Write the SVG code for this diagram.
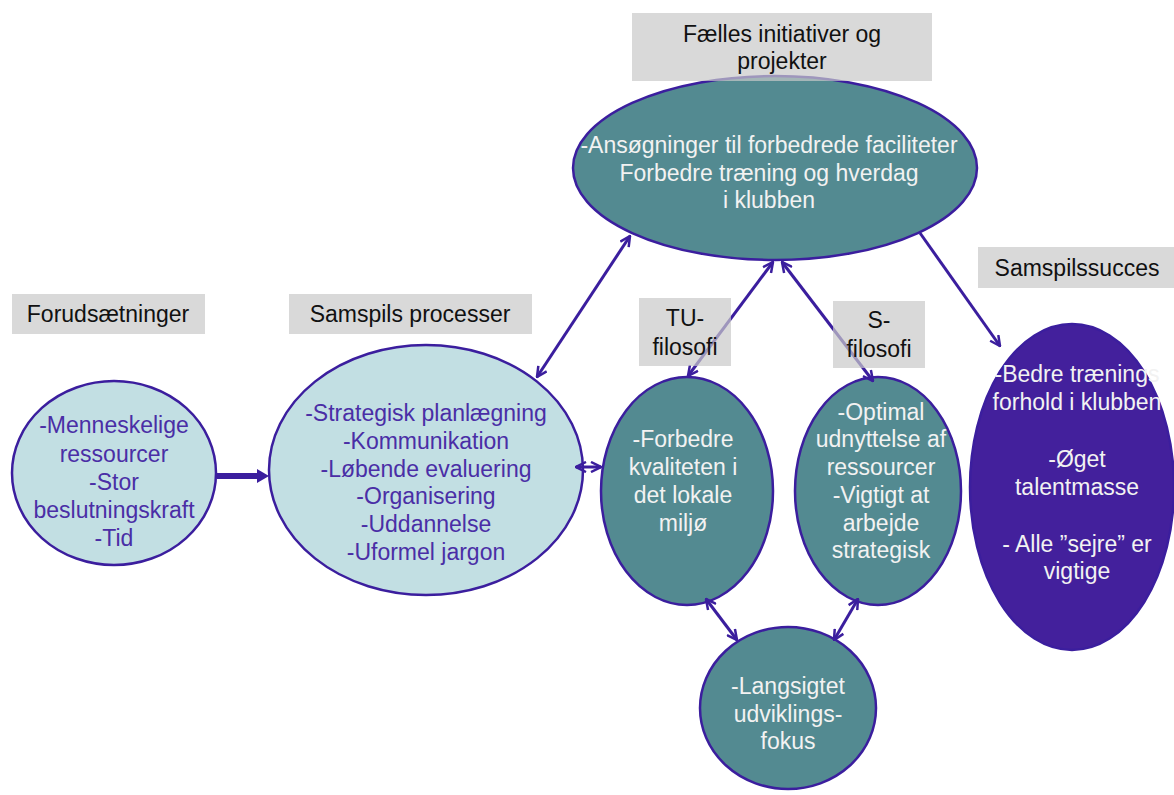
<svg xmlns="http://www.w3.org/2000/svg" width="1174" height="795" viewBox="0 0 1174 795">
  <style>
    text { font-family: "Liberation Sans", Arial, sans-serif; font-size: 23px; text-anchor: middle; }
    .light { fill: #c2dfe3; stroke: #3b1e9e; stroke-width: 2.5; }
    .teal { fill: #538a91; stroke: #3b1e9e; stroke-width: 2.5; }
    .violet { fill: #43209c; stroke: #3b1e9e; stroke-width: 2.5; }
    .t-light { fill: #4a2ea6; }
    .t-dark { fill: #f2f2f2; }
    .box { fill: #c9c9c9; fill-opacity: 0.7; }
    .t-box { fill: #111111; }
    .link { stroke: #3b1e9e; stroke-width: 3; fill: none; }
  </style>
  <defs>
    <marker id="head" viewBox="0 0 12 12" refX="11" refY="6" markerWidth="12" markerHeight="12" markerUnits="userSpaceOnUse" orient="auto-start-reverse">
      <path d="M1,1 L11,6 L1,11" fill="none" stroke="#3b1e9e" stroke-width="2.5" stroke-linejoin="miter"/>
    </marker>
  </defs>

  <rect width="1174" height="795" fill="#ffffff"/>

  <!-- Nodes -->
  <g id="forudsaetninger">
    <ellipse class="light" cx="114" cy="473" rx="102" ry="92"/>
    <text class="t-light"><tspan x="114" y="433">-Menneskelige</tspan><tspan x="114" y="462">ressourcer</tspan><tspan x="114" y="490">-Stor</tspan><tspan x="114" y="518">beslutningskraft</tspan><tspan x="114" y="546">-Tid</tspan></text>
  </g>

  <g id="samspils-processer">
    <ellipse class="light" cx="426" cy="470" rx="157" ry="125"/>
    <text class="t-light"><tspan x="426" y="421">-Strategisk planlægning</tspan><tspan x="426" y="449">-Kommunikation</tspan><tspan x="426" y="477">-Løbende evaluering</tspan><tspan x="426" y="504">-Organisering</tspan><tspan x="426" y="532">-Uddannelse</tspan><tspan x="426" y="560">-Uformel jargon</tspan></text>
  </g>

  <g id="faelles-initiativer">
    <ellipse class="teal" cx="775" cy="168" rx="202" ry="92"/>
    <text class="t-dark"><tspan x="769" y="153">-Ansøgninger til forbedrede faciliteter</tspan><tspan x="769" y="181">Forbedre træning og hverdag</tspan><tspan x="769" y="208">i klubben</tspan></text>
  </g>

  <g id="tu-filosofi">
    <ellipse class="teal" cx="687" cy="491" rx="86" ry="114"/>
    <text class="t-dark"><tspan x="683" y="447">-Forbedre</tspan><tspan x="683" y="475">kvaliteten i</tspan><tspan x="683" y="503">det lokale</tspan><tspan x="683" y="531">miljø</tspan></text>
  </g>

  <g id="s-filosofi">
    <ellipse class="teal" cx="878" cy="491" rx="83" ry="114"/>
    <text class="t-dark"><tspan x="881" y="420">-Optimal</tspan><tspan x="881" y="447">udnyttelse af</tspan><tspan x="881" y="475">ressourcer</tspan><tspan x="881" y="503">-Vigtigt at</tspan><tspan x="881" y="531">arbejde</tspan><tspan x="881" y="558">strategisk</tspan></text>
  </g>

  <g id="langsigtet">
    <ellipse class="teal" cx="788" cy="708" rx="88" ry="81"/>
    <text class="t-dark"><tspan x="788" y="694">-Langsigtet</tspan><tspan x="788" y="722">udviklings-</tspan><tspan x="788" y="749">fokus</tspan></text>
  </g>

  <g id="samspilssucces">
    <ellipse class="violet" cx="1072" cy="487" rx="102" ry="163"/>
    <text class="t-dark"><tspan x="1077" y="382">-Bedre trænings</tspan><tspan x="1077" y="410">forhold i klubben</tspan><tspan x="1077" y="467">-Øget</tspan><tspan x="1077" y="495">talentmasse</tspan><tspan x="1077" y="552">- Alle ”sejre” er</tspan><tspan x="1077" y="579">vigtige</tspan></text>
  </g>

  <!-- Connectors -->
  <g id="connectors">
    <line x1="217" y1="476" x2="258" y2="476" stroke="#3b1e9e" stroke-width="6"/>
    <polygon points="257,469 269,476 257,483" fill="#3b1e9e"/>
    <line class="link" x1="576" y1="467" x2="601" y2="467" marker-start="url(#head)" marker-end="url(#head)" stroke-width="2.5"/>
    <line class="link" x1="630" y1="236" x2="537" y2="377" marker-start="url(#head)" marker-end="url(#head)"/>
    <line class="link" x1="773" y1="262" x2="688" y2="376" marker-start="url(#head)" marker-end="url(#head)"/>
    <line class="link" x1="782" y1="262" x2="873" y2="381" marker-start="url(#head)" marker-end="url(#head)"/>
    <line class="link" x1="920" y1="233" x2="1000" y2="346" marker-end="url(#head)"/>
    <line class="link" x1="706" y1="599" x2="737" y2="640" marker-start="url(#head)" marker-end="url(#head)"/>
    <line class="link" x1="858" y1="599" x2="834" y2="640" marker-start="url(#head)" marker-end="url(#head)"/>
  </g>

  <!-- Stage headings -->
  <g id="label-forudsaetninger">
    <rect class="box" x="12" y="294" width="193" height="40"/>
    <text class="t-box" x="108" y="322">Forudsætninger</text>
  </g>
  <g id="label-samspils-processer">
    <rect class="box" x="289" y="294" width="243" height="40"/>
    <text class="t-box" x="410" y="322">Samspils processer</text>
  </g>
  <g id="label-faelles">
    <rect class="box" x="632" y="13" width="300" height="68"/>
    <text class="t-box"><tspan x="782" y="42">Fælles initiativer og</tspan><tspan x="782" y="69">projekter</tspan></text>
  </g>
  <g id="label-tu">
    <rect class="box" x="639" y="298" width="92" height="68"/>
    <text class="t-box"><tspan x="685" y="326">TU-</tspan><tspan x="685" y="355">filosofi</tspan></text>
  </g>
  <g id="label-s">
    <rect class="box" x="833" y="301" width="92" height="67"/>
    <text class="t-box"><tspan x="879" y="328">S-</tspan><tspan x="879" y="357">filosofi</tspan></text>
  </g>
  <g id="label-samspilssucces">
    <rect class="box" x="978" y="247" width="196" height="41"/>
    <text class="t-box" x="1077" y="276">Samspilssucces</text>
  </g>
</svg>
